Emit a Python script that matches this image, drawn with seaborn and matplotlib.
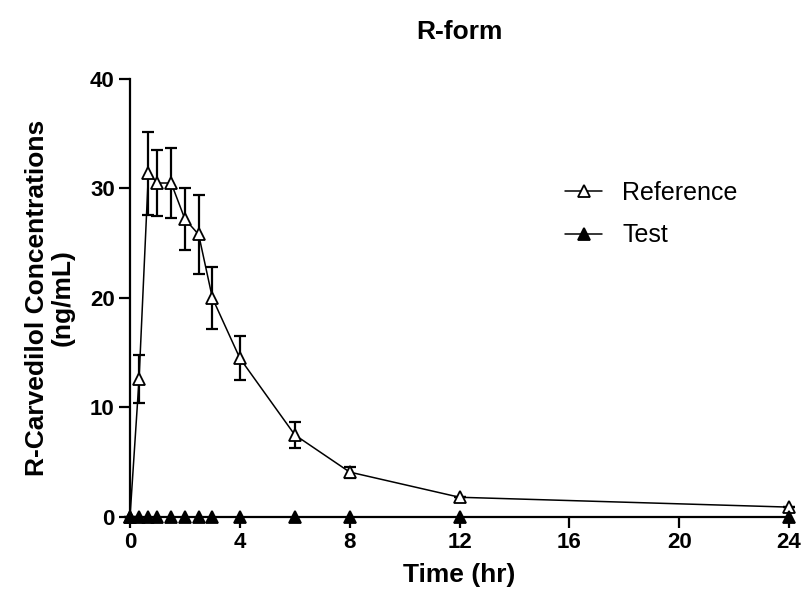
import matplotlib
matplotlib.use("Agg")
import matplotlib.pyplot as plt
import seaborn as sns
import pandas as pd

# mean plasma concentrations (ng/mL)
time_hr = [0, 0.33, 0.67, 1, 1.5, 2, 2.5, 3, 4, 6, 8, 12, 24]
reference_mean = [0, 12.6, 31.4, 30.5, 30.5, 27.2, 25.8, 20.0, 14.5, 7.5, 4.1, 1.8, 0.9]
reference_sd = [0, 2.2, 3.8, 3.0, 3.2, 2.8, 3.6, 2.8, 2.0, 1.2, 0.5, 0, 0]
test_mean = [0, 0, 0, 0, 0, 0, 0, 0, 0, 0, 0, 0, 0]

x_ticks = [0, 4, 8, 12, 16, 20, 24]
y_ticks = [0, 10, 20, 30, 40]

sns.set_style("ticks")
plt.rcParams['font.family'] = ['Liberation Sans', 'DejaVu Sans']
plt.rcParams.update({'text.color': 'black', 'axes.labelcolor': 'black',
                     'xtick.color': 'black', 'ytick.color': 'black',
                     'axes.edgecolor': 'black'})

ref = pd.DataFrame({'time': time_hr, 'conc': reference_mean, 'sd': reference_sd})
test = pd.DataFrame({'time': time_hr, 'conc': test_mean})

fig = plt.figure(figsize=(8.08, 5.98), dpi=100)
ax = fig.add_axes([0.1609, 0.1355, 0.8156, 0.7324])

ax.errorbar(ref['time'], ref['conc'], yerr=ref['sd'], fmt='none', ecolor='black',
            elinewidth=1.6, capsize=4.5, capthick=1.6, zorder=2, clip_on=False)
sns.lineplot(data=ref, x='time', y='conc', ax=ax, color='black', lw=1.1,
             marker='^', markersize=9, markerfacecolor='white', markeredgecolor='black',
             markeredgewidth=1.3, label='Reference', zorder=3, clip_on=False)
sns.lineplot(data=test, x='time', y='conc', ax=ax, color='black', lw=1.1,
             marker='^', markersize=9, markerfacecolor='black', markeredgecolor='black',
             markeredgewidth=1.3, label='Test', zorder=4, clip_on=False)

ax.set_xlim(0, 24)
ax.set_ylim(0, 40)
ax.set_xticks(x_ticks)
ax.set_yticks(y_ticks)
sns.despine(ax=ax)
for s in ['left', 'bottom']:
    ax.spines[s].set_linewidth(1.6)
ax.tick_params(axis='both', direction='out', length=8, width=1.6, color='black',
               labelcolor='black', labelsize=16, pad=3)
for lab in ax.get_xticklabels() + ax.get_yticklabels():
    lab.set_fontweight('bold')

ax.set_title('R-form', fontsize=19, fontweight='bold', pad=29)
ax.set_xlabel('Time (hr)', fontsize=19, fontweight='bold', labelpad=7)
ax.set_ylabel('R-Carvedilol Concentrations\n(ng/mL)', fontsize=19, fontweight='bold',
              labelpad=11, linespacing=1.1)

ax.legend(loc='upper left', bbox_to_anchor=(0.699, 0.698), bbox_transform=fig.transFigure,
          frameon=False, fontsize=18, handlelength=1.5, handletextpad=0.8,
          labelspacing=0.75, borderpad=0, borderaxespad=0)

fig.savefig('out.png', dpi=100)
